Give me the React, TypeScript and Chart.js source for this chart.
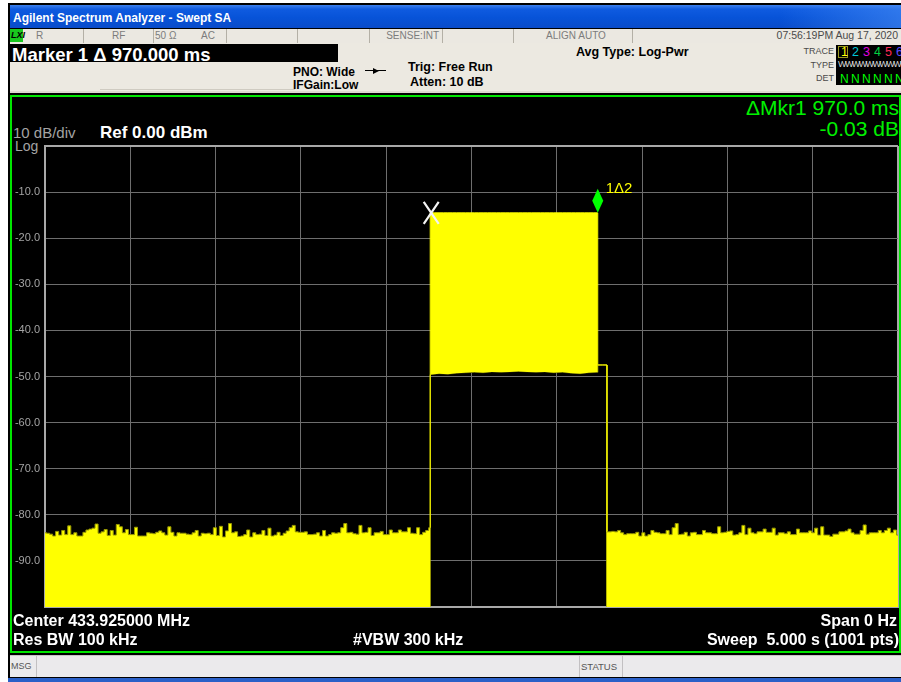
import React, { useEffect, useRef } from 'react';
import { Chart, registerables } from 'chart.js';

Chart.register(...registerables);

// ---------- data ----------
const sweepTime = 5; // seconds, 1001 pts
const refLevel = 0; // dBm
const bottomLevel = -100; // dBm
const xDivisionStep = 0.5;
const yDivisionStep = 10;
const yTickLabels = ['', '-10.0', '-20.0', '-30.0', '-40.0', '-50.0', '-60.0', '-70.0', '-80.0', '-90.0', ''];

const burstStart = 2.258; // s
const burstEnd = 3.24; // s
const tailEnd = 3.294; // s
const burstLevel = -14.5; // dBm
const tailLevel = -47.5; // dBm

const leftNoise = [
  -83.9, -84.0, -84.2, -84.6, -83.6, -84.4, -83.4, -84.3, -82.4, -84.3, -83.9, -84.6, -84.6, -83.8, -83.3, -83.1,
  -82.9, -82.0, -84.0, -83.7, -83.2, -84.5, -83.4, -84.4, -82.1, -82.6, -83.9, -83.2, -84.3, -84.3, -82.7, -84.6,
  -84.6, -84.6, -83.9, -84.0, -84.1, -83.8, -83.5, -83.9, -84.4, -82.6, -83.8,
  -84.6, -83.9, -84.0, -84.0, -84.2, -84.3, -83.9, -83.4, -84.6, -84.0, -84.1, -84.0, -84.3, -82.8, -84.5, -82.5,
  -84.8, -83.5, -81.9, -83.9, -83.7, -84.7, -84.6, -84.3, -83.3, -84.8, -83.9, -84.3, -84.2, -83.4, -84.5, -82.9,
  -84.6, -84.4, -83.8, -84.5, -84.0, -83.5, -82.8, -82.3, -83.7, -83.8, -83.8,
  -83.7, -84.3, -84.3, -84.2, -83.9, -84.6, -83.4, -84.6, -84.3, -83.9, -84.0, -83.9, -82.8, -81.9, -83.9, -83.8,
  -84.1, -84.2, -82.3, -83.9, -83.8, -82.8, -84.5, -83.9, -83.9, -83.6, -84.3, -84.3, -83.3, -83.9, -83.9, -83.3,
  -83.7, -83.7, -82.8, -84.0, -84.1, -82.8, -84.3, -83.8, -83.4, -82.8,
];

const burstFloor = [
  -49.6, -49.4, -49.5, -49.3, -49.2, -49.1, -49.2, -49.0, -49.1, -49.0,
  -48.9, -49.0, -49.1, -49.0, -49.2, -49.1, -49.3, -49.4, -49.2, -49.1,
];

const rightNoise = [
  -83.7, -83.7, -83.6, -83.7, -83.4, -83.9, -84.3, -84.1, -84.1, -84.1, -83.8, -84.6, -83.9, -84.6, -84.3, -83.4,
  -83.8, -83.9, -84.1, -84.1, -83.4, -84.3, -82.8, -81.9, -84.3, -84.2, -83.8, -84.6, -83.9, -83.8, -84.3, -84.3,
  -83.4, -83.9, -83.9, -84.1, -84.1, -82.6, -83.9, -83.8, -83.6, -83.5, -84.4, -84.3, -83.9, -82.3, -84.3, -82.9,
  -83.9, -84.1, -83.7, -83.7, -83.1, -83.8, -83.8, -82.9, -84.4, -83.9, -83.9, -84.1, -83.7, -84.3, -84.3, -83.1,
  -83.9, -83.9, -83.9, -83.5, -83.9, -82.9, -84.4, -82.6, -84.4, -84.4, -84.7, -84.2, -84.2, -83.7, -83.7, -83.5,
  -83.1, -83.9, -84.2, -84.2, -83.4, -82.2, -84.2, -83.9, -83.9, -83.9, -83.4, -83.9, -83.4, -82.9, -83.9, -83.3,
  -84.4,
];

const deltaMarker = { t: burstEnd, level: burstLevel, label: '1\u03942' };
const refMarker = { t: burstStart, level: burstLevel };

// ---------- trace construction ----------
type P = { x: number; y: number };
function buildTrace() {
  const maxPts: P[] = [];
  const minPts: P[] = [];
  leftNoise.forEach((v, i) => {
    const x = (burstStart * i) / (leftNoise.length - 1);
    maxPts.push({ x, y: v });
    minPts.push({ x, y: bottomLevel });
  });
  burstFloor.forEach((v, i) => {
    const x = burstStart + ((burstEnd - burstStart) * i) / (burstFloor.length - 1);
    maxPts.push({ x, y: burstLevel });
    minPts.push({ x, y: v });
  });
  maxPts.push({ x: burstEnd, y: tailLevel });
  minPts.push({ x: burstEnd, y: tailLevel });
  maxPts.push({ x: tailEnd, y: tailLevel });
  minPts.push({ x: tailEnd, y: tailLevel });
  rightNoise.forEach((v, i) => {
    const x = tailEnd + ((sweepTime - tailEnd) * i) / (rightNoise.length - 1);
    maxPts.push({ x, y: v });
    minPts.push({ x, y: bottomLevel });
  });
  return { maxPts, minPts };
}

const markerPlugin = {
  id: 'saMarkers',
  afterDatasetsDraw(chart: any) {
    const { ctx, scales } = chart;
    const x = scales.x;
    const y = scales.y;
    ctx.save();
    // reference marker "X"
    const rx = x.getPixelForValue(refMarker.t) + 1;
    const ry = y.getPixelForValue(refMarker.level);
    ctx.strokeStyle = '#f4f4f4';
    ctx.lineWidth = 2.2;
    ctx.beginPath();
    ctx.moveTo(rx - 7.5, ry - 11);
    ctx.lineTo(rx + 7.5, ry + 11);
    ctx.moveTo(rx + 7.5, ry - 11);
    ctx.lineTo(rx - 7.5, ry + 11);
    ctx.stroke();
    // delta marker diamond
    const mx = x.getPixelForValue(deltaMarker.t);
    const my = y.getPixelForValue(deltaMarker.level);
    ctx.fillStyle = '#00ff00';
    ctx.beginPath();
    ctx.moveTo(mx, my);
    ctx.lineTo(mx + 5.5, my - 12);
    ctx.lineTo(mx, my - 24);
    ctx.lineTo(mx - 5.5, my - 12);
    ctx.closePath();
    ctx.fill();
    ctx.fillStyle = '#ffff00';
    ctx.font = '15px "Liberation Sans", Arial, sans-serif';
    ctx.textBaseline = 'middle';
    ctx.textAlign = 'left';
    ctx.fillText(deltaMarker.label, mx + 8, my - 24);
    ctx.restore();
  },
};

function SAChart() {
  const ref = useRef<HTMLCanvasElement | null>(null);
  useEffect(() => {
    if (!ref.current) return;
    const { maxPts, minPts } = buildTrace();
    const chart = new Chart(ref.current, {
      type: 'line',
      data: {
        datasets: [
          {
            data: maxPts,
            borderColor: '#ffff00',
            borderWidth: 1,
            backgroundColor: '#ffff00',
            fill: '+1',
            pointRadius: 0,
            tension: 0,
            stepped: 'middle',
            segment: {
              borderColor: (c: any) => (c.p0.parsed.y < -60 && c.p1.parsed.y < -60 ? '#9a9a00' : '#ffff00'),
            },
          },
          {
            data: minPts,
            borderColor: '#c8c800',
            borderWidth: 1,
            backgroundColor: 'rgba(0,0,0,0)',
            fill: false,
            pointRadius: 0,
            tension: 0,
            segment: {
              borderColor: (c: any) =>
                c.p0.parsed.y > -99 &&
                c.p1.parsed.y > -99 &&
                c.p0.parsed.x >= burstStart &&
                c.p1.parsed.x <= burstEnd &&
                c.p0.parsed.x !== c.p1.parsed.x
                  ? '#3a3a00'
                  : '#c8c800',
            },
          },
        ] as any,
      },
      options: {
        responsive: false,
        maintainAspectRatio: false,
        animation: false,
        events: [],
        layout: { padding: { left: 0, right: 3, top: 6, bottom: 5 } },
        plugins: { legend: { display: false }, tooltip: { enabled: false }, title: { display: false } },
        scales: {
          x: {
            type: 'linear',
            min: 0,
            max: sweepTime,
            ticks: { display: false, stepSize: xDivisionStep },
            grid: {
              color: (c: any) => (c.tick && (c.tick.value === 0 || c.tick.value === sweepTime) ? '#a8a8a8' : '#6e6e6e'),
              lineWidth: (c: any) => (c.tick && c.tick.value === sweepTime ? 2 : 1),
              drawTicks: false,
            },
            border: { display: true, color: '#a8a8a8', width: 2 },
            afterFit: (axis: any) => {
              axis.height = 0;
              axis.paddingLeft = 0;
              axis.paddingRight = 0;
            },
          },
          y: {
            type: 'linear',
            min: bottomLevel,
            max: refLevel,
            ticks: {
              stepSize: yDivisionStep,
              color: '#a4a4a4',
              padding: 5,
              font: { family: '"Liberation Sans", Arial, sans-serif', size: 11 },
              callback: (v: any) => yTickLabels[Math.round((refLevel - Number(v)) / yDivisionStep)] ?? '',
            },
            grid: {
              color: (c: any) => (c.tick && (c.tick.value === refLevel || c.tick.value === bottomLevel) ? '#a8a8a8' : '#6e6e6e'),
              lineWidth: (c: any) => (c.tick && c.tick.value === refLevel ? 2 : 1),
              drawTicks: false,
            },
            border: { display: true, color: '#a8a8a8', width: 2 },
            afterFit: (axis: any) => {
              axis.width = 35;
              axis.paddingTop = 0;
              axis.paddingBottom = 0;
            },
          },
        },
      } as any,
      plugins: [markerPlugin],
    });
    return () => chart.destroy();
  }, []);
  return (
    <canvas
      ref={ref}
      width={891}
      height={472}
      style={{ position: 'absolute', left: 10, top: 140, width: 891, height: 472 }}
    />
  );
}

const FONT = '"Liberation Sans", Arial, Helvetica, sans-serif';

function T(props: {
  x?: number;
  right?: number;
  y: number;
  size: number;
  text: string;
  color?: string;
  bold?: boolean;
  family?: string;
  italic?: boolean;
}) {
  const { x, right, y, size, text, color = '#000', bold, family = FONT, italic } = props;
  const lh = Math.round(size * 1.2);
  const style: React.CSSProperties = {
    position: 'absolute',
    top: y - lh / 2,
    height: lh,
    lineHeight: lh + 'px',
    fontSize: size,
    fontFamily: family,
    fontWeight: bold ? 'bold' : 'normal',
    fontStyle: italic ? 'italic' : 'normal',
    color,
    whiteSpace: 'pre',
  };
  if (right !== undefined) {
    style.right = 901 - right;
    style.textAlign = 'right';
  } else style.left = x;
  return <div style={style}>{text}</div>;
}

function Box(props: { x: number; y: number; w: number; h: number; bg: string; style?: React.CSSProperties }) {
  return (
    <div
      style={{
        position: 'absolute',
        left: props.x,
        top: props.y,
        width: props.w,
        height: props.h,
        background: props.bg,
        ...props.style,
      }}
    />
  );
}

const statusSeparators = [83, 153, 226, 297, 369, 442, 513, 632];
const traceDigits = [
  { d: '1', c: '#ffff00', x: 841 },
  { d: '2', c: '#00c8d8', x: 852 },
  { d: '3', c: '#e000e0', x: 863 },
  { d: '4', c: '#00d040', x: 874 },
  { d: '5', c: '#ff2a55', x: 885 },
  { d: '6', c: '#5a4cff', x: 896 },
];

export default function App() {
  return (
    <div
      style={{
        position: 'absolute',
        left: 0,
        top: 0,
        width: 901,
        height: 682,
        overflow: 'hidden',
        background: '#ffffff',
        fontFamily: FONT,
      }}
    >
      {/* window frame */}
      <Box x={8} y={3} w={893} h={679} bg="#000" />
      {/* title bar */}
      <Box
        x={10}
        y={5}
        w={891}
        h={23}
        bg="linear-gradient(to bottom, #3f82ee 0%, #0f5be0 18%, #0753d8 55%, #0a4cca 100%)"
      />
      <Box x={780} y={5} w={121} h={23} bg="linear-gradient(to right, rgba(60,130,240,0) 0%, rgba(70,140,245,0.6) 100%)" />
      <T x={13} y={18} size={12} bold color="#ffffff" text="Agilent Spectrum Analyzer - Swept SA" />

      {/* status row */}
      <Box x={10} y={29} w={891} h={14} bg="#ebe8e1" />
      {statusSeparators.map((s) => (
        <Box key={s} x={s} y={29} w={1} h={14} bg="#b4b0a6" />
      ))}
      <Box x={10} y={29} w={13} h={13} bg="#19c81e" />
      <T x={11} y={35.5} size={9} bold italic color="#000" text="LXI" />
      <T x={36} y={35.5} size={10} color="#7c7c7c" text="R" />
      <T x={112} y={35.5} size={10} color="#7c7c7c" text="RF" />
      <T x={155} y={35.5} size={10} color="#7c7c7c" text="50 Ω" />
      <T x={201} y={35.5} size={10} color="#7c7c7c" text="AC" />
      <T right={439} y={35.5} size={10} color="#7c7c7c" text="SENSE:INT" />
      <T x={546} y={35.5} size={10} color="#7c7c7c" text="ALIGN AUTO" />
      <T right={898} y={35.5} size={10.5} color="#4a4a4a" text="07:56:19PM Aug 17, 2020" />

      {/* header */}
      <Box x={10} y={43} w={891} h={50} bg="#ece9e1" />
      <Box x={100} y={89} w={195} h={1} bg="#cfcbc1" />
      <Box x={10} y={91} w={891} h={2} bg="#dcd8cf" />
      <Box x={10} y={44} w={328} h={18} bg="#000" />
      <T x={12} y={55} size={18.5} bold color="#ffffff" text="Marker 1 Δ 970.000 ms" />
      <T x={293} y={71.5} size={12} bold color="#000" text="PNO: Wide" />
      <T x={293} y={85} size={12} bold color="#000" text="IFGain:Low" />
      <Box x={365} y={70} w={21} h={1} bg="#000" />
      <div
        style={{
          position: 'absolute',
          left: 373,
          top: 67.5,
          width: 0,
          height: 0,
          borderTop: '3px solid transparent',
          borderBottom: '3px solid transparent',
          borderLeft: '6px solid #000',
        }}
      />
      <T x={408} y={67} size={12.5} bold color="#000" text="Trig: Free Run" />
      <T x={410} y={82} size={12.5} bold color="#000" text="Atten: 10 dB" />
      <T x={576} y={52} size={12.5} bold color="#000" text="Avg Type: Log-Pwr" />
      <T right={834} y={51.5} size={9} color="#4a4a4a" text="TRACE" />
      <T right={834} y={65} size={9} color="#4a4a4a" text="TYPE" />
      <T right={834} y={78.5} size={9} color="#4a4a4a" text="DET" />
      <Box x={836} y={45} w={65} h={40} bg="#000" />
      <Box x={838} y={46} w={10} h={12} bg="transparent" style={{ border: '1px solid #9a9a20', boxSizing: 'border-box' }} />
      {traceDigits.map((t) => (
        <T key={t.d} x={t.x} y={52} size={12.5} color={t.c} text={t.d} />
      ))}
      <div
        style={{
          position: 'absolute',
          left: 838,
          top: 59,
          height: 11,
          lineHeight: '11px',
          fontSize: 9,
          letterSpacing: -1.6,
          color: '#d8d8d8',
          fontFamily: FONT,
          whiteSpace: 'pre',
        }}
      >
        WWWWWWWWWWWW
      </div>
      {traceDigits.map((t) => (
        <T key={'n' + t.d} x={t.x - 1} y={78.5} size={12} color="#00ff00" text="N" />
      ))}

      {/* plot panel */}
      <div
        style={{
          position: 'absolute',
          left: 10,
          top: 95,
          width: 891,
          height: 558,
          boxSizing: 'border-box',
          border: '2px solid #00e600',
          background: '#000',
        }}
      />
      <T right={899} y={107} size={21} color="#00f000" text="ΔMkr1 970.0 ms" />
      <T right={899} y={128} size={21} color="#00f000" text="-0.03 dB" />
      <T x={13} y={133} size={15} color="#a4a4a4" text="10 dB/div" />
      <T x={15} y={146} size={14} color="#a4a4a4" text="Log" />
      <T x={100} y={133} size={17} bold color="#ffffff" text="Ref 0.00 dBm" />

      <SAChart />

      <T x={13} y={620} size={16} bold color="#ffffff" text="Center 433.925000 MHz" />
      <T x={13} y={639} size={16} bold color="#ffffff" text="Res BW 100 kHz" />
      <T x={353} y={639} size={16} bold color="#ffffff" text="#VBW 300 kHz" />
      <T right={897} y={620} size={16} bold color="#ffffff" text="Span 0 Hz" />
      <T right={899} y={639} size={16} bold color="#ffffff" text="Sweep  5.000 s (1001 pts)" />

      {/* message bar */}
      <Box x={10} y={655} w={891} h={22} bg="#ebeaec" style={{ borderTop: '1px solid #c8c6c8', boxSizing: 'border-box' }} />
      <Box x={36} y={656} w={1} h={21} bg="#c2c0c2" />
      <Box x={579} y={656} w={1} h={21} bg="#c2c0c2" />
      <Box x={622} y={656} w={1} h={21} bg="#c2c0c2" />
      <T x={11} y={666} size={9} color="#555" text="MSG" />
      <T x={581} y={666} size={9.5} color="#555" text="STATUS" />
      <Box x={8} y={678} w={893} h={4} bg="#2a60c8" />
    </div>
  );
}
